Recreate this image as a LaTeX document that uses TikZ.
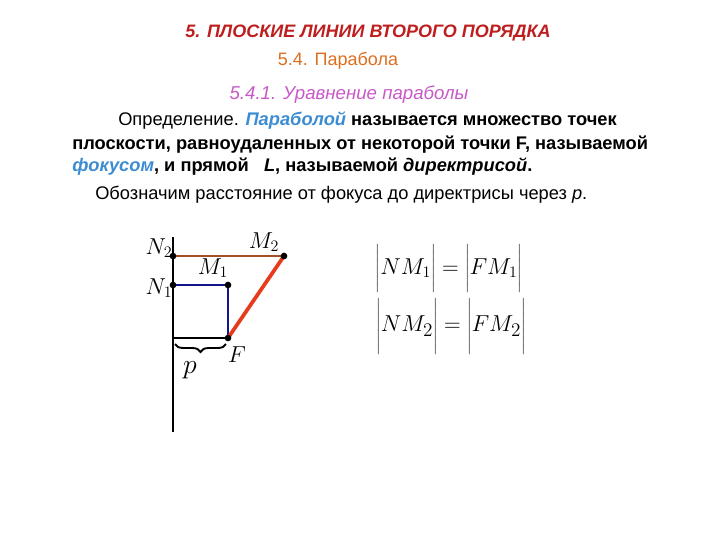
\documentclass[tikz,border=0pt]{standalone}
\usepackage{fontspec}
\setmainfont{Liberation Sans}
\usetikzlibrary{decorations.pathreplacing}
\definecolor{ttl}{RGB}{190,30,30}
\definecolor{sub}{RGB}{220,110,30}
\definecolor{subsub}{RGB}{200,90,200}
\definecolor{kw}{RGB}{60,140,210}
\definecolor{bl}{RGB}{20,20,140}
\definecolor{br}{RGB}{160,80,40}
\definecolor{rd}{RGB}{230,60,30}
\newcommand{\tallabs}[1]{\left|\rule[-0.55em]{0pt}{1.9em}#1\right|}
\begin{document}
\begin{tikzpicture}[x=0.75pt,y=-0.75pt,
  txt/.style={anchor=west,inner sep=0,font=\fontsize{13.7}{16}\selectfont},
  lbl/.style={inner sep=0,font=\fontsize{17}{18}\selectfont},
  dot/.style={circle,fill=black,inner sep=0,minimum size=5pt}]
\useasboundingbox (0,0) rectangle (720,540);
\node[inner sep=0,text=ttl,font=\bfseries\itshape\fontsize{13.5}{14}\selectfont] (t1) at (368,33) {5. ПЛОСКИЕ ЛИНИИ ВТОРОГО ПОРЯДКА};
\node[inner sep=0,text=sub,font=\fontsize{13.5}{14}\selectfont] (t2) at (338,61) {5.4. Парабола};
\node[inner sep=0,text=subsub,font=\itshape\fontsize{14}{15}\selectfont] (t3) at (349,95) {5.4.1. Уравнение параболы};
\node[txt] (l1) at (118,121) {Определение. {\bfseries\itshape\color{kw}Параболой} \textbf{называется множество точек}};
\node[txt] (l2) at (72,145) {\textbf{плоскости, равноудаленных от некоторой точки F, называемой}};
\node[txt] (l3) at (72,167) {{\bfseries\itshape\color{kw}фокусом}\textbf{, и прямой \ \ \textit{L}, называемой \textit{директрисой}.}};
\node[txt] (l4) at (95,195) {Обозначим расстояние от фокуса до директрисы через \textit{p}.};
% figure
\coordinate (top) at (173,237); \coordinate (bot) at (173,432);
\coordinate (N2) at (173,256); \coordinate (M2) at (284,256);
\coordinate (N1) at (173,285); \coordinate (M1) at (228,285);
\coordinate (F) at (228,338); \coordinate (D) at (173,338);
\draw[line width=2.2pt] (top) -- (bot);
\draw[line width=1.4pt] (D) -- (F);
\draw[line width=1.4pt,decorate,decoration={brace,mirror,amplitude=6pt}] (175,344) -- (226,344);
\draw[br,line width=1.5pt] (N2) -- (M2);
\draw[bl,line width=1.5pt] (N1) -- (M1) -- (F);
\draw[rd,line width=2.8pt] (M2) -- (F);
\foreach \p in {N2,M2,N1,M1,F} \node[dot] at (\p) {};
\node[lbl] (lN2) at (159,248) {$N_2$};
\node[lbl] (lN1) at (159,288) {$N_1$};
\node[lbl] (lM1) at (213,268) {$M_1$};
\node[lbl] (lM2) at (264,242) {$M_2$};
\node[lbl] (lF) at (237,355) {$F$};
\node[lbl,font=\fontsize{22}{22}\selectfont] (lp) at (190,370) {$p$};
\node[inner sep=0,font=\fontsize{17}{18}\selectfont] (e1) at (449,268) {$\tallabs{NM_1} = \tallabs{FM_1}$};
\node[inner sep=0,font=\fontsize{19}{20}\selectfont] (e2) at (451,326) {$\tallabs{NM_2} = \tallabs{FM_2}$};
\end{tikzpicture}
\end{document}
